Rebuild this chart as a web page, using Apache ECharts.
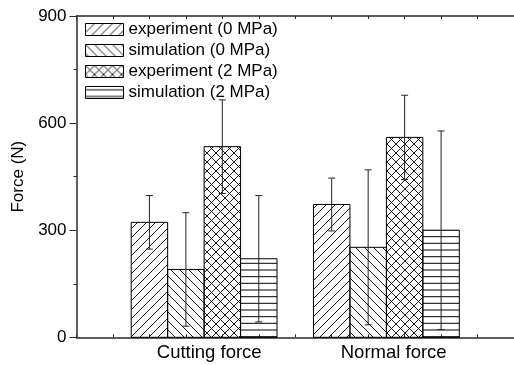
<!DOCTYPE html>
<html>
<head>
<meta charset="utf-8">
<script src="https://cdn.jsdelivr.net/npm/echarts@6/dist/echarts.min.js"></script>
<style>
  html, body { margin: 0; padding: 0; background: #fff; }
  #chart { width: 514px; height: 365px; }
</style>
</head>
<body>
<div id="chart"></div>
<script>
// Measured forces (N) and their standard deviations
const categories = ['Cutting force', 'Normal force'];
const seriesNames = ['experiment (0 MPa)', 'simulation (0 MPa)', 'experiment (2 MPa)', 'simulation (2 MPa)'];
const expZero = [322, 372];
const simZero = [190, 252];
const expTwo = [534, 560];
const simTwo = [220, 300];
const expZeroErr = [75, 74];
const simZeroErr = [159, 217];
const expTwoErr = [131, 118];
const simTwoErr = [177, 278];
const yTicks = [0, 300, 600, 900];

const values = [expZero, simZero, expTwo, simTwo];
const errors = [expZeroErr, simZeroErr, expTwoErr, simTwoErr];

// Hatch fills
function makePattern(kind) {
  const c = document.createElement('canvas');
  const ctx = c.getContext('2d');
  if (kind === 'horiz') {
    c.width = 8; c.height = 20;
    ctx.strokeStyle = '#000';
    ctx.lineWidth = 1;
    [3.3, 10, 16.7].forEach(function (y) {
      ctx.beginPath(); ctx.moveTo(0, y); ctx.lineTo(8, y); ctx.stroke();
    });
  } else {
    const s = 9;
    c.width = s; c.height = s;
    ctx.strokeStyle = '#000';
    ctx.lineWidth = 0.9;
    const fwd = function () {
      ctx.beginPath();
      ctx.moveTo(-2, s + 2); ctx.lineTo(s + 2, -2);
      ctx.moveTo(-2, 2); ctx.lineTo(2, -2);
      ctx.moveTo(s - 2, s + 2); ctx.lineTo(s + 2, s - 2);
      ctx.stroke();
    };
    const back = function () {
      ctx.beginPath();
      ctx.moveTo(-2, -2); ctx.lineTo(s + 2, s + 2);
      ctx.moveTo(s - 2, -2); ctx.lineTo(s + 2, 2);
      ctx.moveTo(-2, s - 2); ctx.lineTo(2, s + 2);
      ctx.stroke();
    };
    if (kind === 'fwd' || kind === 'cross') fwd();
    if (kind === 'back' || kind === 'cross') back();
  }
  return { image: c, repeat: 'repeat' };
}
const fills = [makePattern('fwd'), makePattern('back'), makePattern('cross'), makePattern('horiz')];

// group i is centred at 3.5 + 5 i on the x scale; each bar is one unit wide
function groupCenter(i) { return 3.5 + 5 * i; }

function makeSeries(k) {
  return {
    name: seriesNames[k],
    type: 'custom',
    itemStyle: { color: fills[k], borderColor: '#000', borderWidth: 1 },
    data: values[k].map(function (v, i) { return [i, v, errors[k][i]]; }),
    encode: { y: 1 },
    renderItem: function (params, api) {
      const i = api.value(0);
      const v = api.value(1);
      const e = api.value(2);
      const xc = groupCenter(i) + (k - 1.5);
      const topLeft = api.coord([xc - 0.5, v]);
      const base = api.coord([xc - 0.5, 0]);
      const w = api.size([1, 0])[0];
      const mid = api.coord([xc, v])[0];
      const hi = api.coord([xc, v + e])[1];
      const lo = api.coord([xc, v - e])[1];
      const cap = 3.5;
      const errStyle = { stroke: '#222', lineWidth: 1 };
      return {
        type: 'group',
        children: [
          {
            type: 'rect',
            shape: { x: topLeft[0], y: topLeft[1], width: w, height: base[1] - topLeft[1] },
            style: { fill: fills[k], stroke: '#000', lineWidth: 1 }
          },
          { type: 'line', shape: { x1: mid, y1: hi, x2: mid, y2: lo }, style: errStyle },
          { type: 'line', shape: { x1: mid - cap, y1: hi, x2: mid + cap, y2: hi }, style: errStyle },
          { type: 'line', shape: { x1: mid - cap, y1: lo, x2: mid + cap, y2: lo }, style: errStyle }
        ]
      };
    }
  };
}

const font = 'Liberation Sans, Arial, sans-serif';
const axisColor = '#2a2a2a';

const chart = echarts.init(document.getElementById('chart'), null, { renderer: 'canvas' });
chart.setOption({
  animation: false,
  backgroundColor: '#fff',
  textStyle: { fontFamily: font },
  grid: { left: 76.5, right: -2, top: 16, bottom: 27.7, containLabel: false },
  legend: {
    data: seriesNames,
    orient: 'vertical',
    left: 85,
    top: 21,
    icon: 'rect',
    itemWidth: 38,
    itemHeight: 12,
    itemGap: 4,
    padding: 0,
    selectedMode: false,
    textStyle: { fontFamily: font, fontSize: 17, color: '#000' },
    itemStyle: { borderColor: '#000', borderWidth: 1 }
  },
  xAxis: [
    {
      type: 'value',
      position: 'bottom',
      min: 0, max: 12, interval: 1,
      splitLine: { show: false },
      axisLine: { lineStyle: { color: axisColor, width: 1.5 } },
      axisTick: { inside: true, length: 3, lineStyle: { color: axisColor } },
      axisLabel: {
        customValues: [groupCenter(0) + 0.14, groupCenter(1) + 0.2],
        formatter: function (val) {
          return val < 6 ? categories[0] : categories[1];
        },
        fontFamily: font, fontSize: 18.5, color: '#000', margin: 6
      }
    },
    {
      type: 'value',
      position: 'top',
      min: 0, max: 12, interval: 1,
      splitLine: { show: false },
      axisLine: { lineStyle: { color: axisColor, width: 1.5 } },
      axisTick: { inside: true, length: 3, lineStyle: { color: axisColor } },
      axisLabel: { show: false }
    }
  ],
  yAxis: {
    type: 'value',
    min: yTicks[0], max: yTicks[yTicks.length - 1], interval: 300,
    name: 'Force (N)',
    nameLocation: 'middle',
    nameGap: 50,
    nameTextStyle: { fontFamily: font, fontSize: 17, color: '#000' },
    splitLine: { show: false },
    axisLine: { show: true, lineStyle: { color: axisColor, width: 1.5 } },
    axisTick: { show: true, length: 7, lineStyle: { color: axisColor } },
    minorTick: { show: true, splitNumber: 2, length: 3, lineStyle: { color: axisColor } },
    axisLabel: { fontFamily: font, fontSize: 17, color: '#000', margin: 10 }
  },
  series: [0, 1, 2, 3].map(makeSeries)
});
</script>
</body>
</html>
